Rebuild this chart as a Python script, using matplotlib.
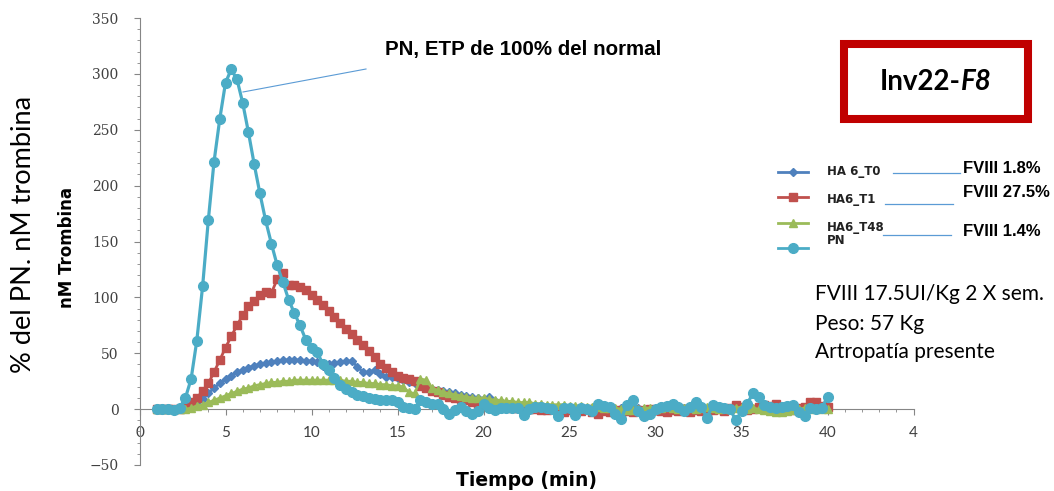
import matplotlib
matplotlib.use("Agg")
import matplotlib.pyplot as plt
from matplotlib.lines import Line2D
from matplotlib.patches import Rectangle
from matplotlib.ticker import MultipleLocator

# time (min), one reading every 20 s
tiempo = [
    1.0, 1.33, 1.67, 2.0, 2.33, 2.67, 3.0, 3.33, 3.67, 4.0, 4.33, 4.67,
    5.0, 5.33, 5.67, 6.0, 6.33, 6.67, 7.0, 7.33, 7.67, 8.0, 8.33, 8.67,
    9.0, 9.33, 9.67, 10.0, 10.33, 10.67, 11.0, 11.33, 11.67, 12.0, 12.33, 12.67,
    13.0, 13.33, 13.67, 14.0, 14.33, 14.67, 15.0, 15.33, 15.67, 16.0, 16.33, 16.67,
    17.0, 17.33, 17.67, 18.0, 18.33, 18.67, 19.0, 19.33, 19.67, 20.0, 20.33, 20.67,
    21.0, 21.33, 21.67, 22.0, 22.33, 22.67, 23.0, 23.33, 23.67, 24.0, 24.33, 24.67,
    25.0, 25.33, 25.67, 26.0, 26.33, 26.67, 27.0, 27.33, 27.67, 28.0, 28.33, 28.67,
    29.0, 29.33, 29.67, 30.0, 30.33, 30.67, 31.0, 31.33, 31.67, 32.0, 32.33, 32.67,
    33.0, 33.33, 33.67, 34.0, 34.33, 34.67, 35.0, 35.33, 35.67, 36.0, 36.33, 36.67,
    37.0, 37.33, 37.67, 38.0, 38.33, 38.67, 39.0, 39.33, 39.67, 40.0,
]

ha6_t0 = [
    0, 0, 0, 0, 0, 1, 2, 5, 9, 14, 19, 23,
    27, 30, 33, 35, 37, 39, 40, 41, 42, 43, 44, 44,
    44, 44, 43, 43, 42, 39, 40, 41, 42, 43, 43, 38,
    33, 33, 35, 31, 29, 29, 28, 26, 24, 23, 21, 19,
    18, 17, 16, 15, 14, 13, 12, 11, 10, 9, 11, 7,
    6, 5, 5, 4, 4, 3, 3, 2, 2, 2, 1, 1,
    1, 0, 1, 0, 1, 0, 1, 0, 0, 1, 0, 0,
    1, 0, 0, 1, 0, 0, 1, 0, 1, 0, 0, 1,
    0, 1, 0, -1, 0, 1, 0, 1, 0, 0, 1, 0,
    0, 1, 0, 0, 1, 0, 0, 1, 0, 0,
]

ha6_t1 = [
    0, 0, 0, 0, 0, 2, 6, 10, 16, 23, 33, 44,
    55, 65, 75, 84, 92, 97, 102, 105, 104, 116, 122, 111,
    111, 109, 107, 102, 98, 93, 88, 82, 77, 72, 67, 62,
    57, 52, 47, 40, 37, 33, 30, 28, 27, 25, 21, 19,
    16, 15, 13, 11, 10, 9, 8, 6, 5, 5, 4, 4,
    3, 2, 1, 1, 1, 0, 0, -1, -1, 0, -2, -3,
    -1, -3, -2, 0, -3, -4, -2, -3, -1, -4, -2, -3,
    -1, -2, 0, -1, -2, -3, -1, -2, 0, -3, -1, -2,
    -3, -1, 0, -2, 1, 4, 2, -1, 0, 2, 4, 3,
    5, 2, 0, -1, 1, 2, 6, 6, 3, 2,
]

ha6_t48 = [
    0, 0, 0, 0, 0, 0, 1, 3, 4, 6, 8, 10,
    12, 14, 16, 18, 19, 21, 22, 23, 24, 24, 25, 25,
    26, 26, 26, 26, 26, 26, 26, 26, 26, 25, 25, 24,
    24, 23, 23, 22, 22, 21, 21, 20, 15, 14, 27, 26,
    19, 17, 15, 14, 13, 12, 11, 10, 10, 10, 9, 8,
    8, 7, 7, 6, 6, 6, 5, 5, 4, 4, 4, 4,
    3, 3, 3, 2, 2, 2, 1, 1, 1, 0, -1, -1,
    0, 1, 1, 0, 1, 2, 1, 0, 1, 1, 0, 1,
    2, 1, 0, 1, 0, 1, 2, 0, 1, 0, -1, -2,
    -3, -3, -2, -1, 0, 1, 0, 1, 0, 0,
]

pn = [
    0, 0, 0, -1, 1, 10, 27, 61, 110, 169, 221, 260,
    292, 304, 295, 274, 248, 219, 193, 169, 148, 129, 114, 98,
    86, 75, 62, 55, 51, 40, 35, 28, 22, 18, 15, 13,
    12, 10, 9, 8, 8, 8, 6, 2, 1, 0, 8, 6,
    5, 5, 0, -4, -1, 2, -2, -4, -2, 5, 1, -1,
    1, 1, 1, 1, -5, 0, 2, 2, 1, 0, -6, 1,
    1, -5, 1, 0, -2, 5, 3, 2, -4, -9, 4, 8,
    -2, -6, -4, 0, 2, 3, 5, 2, -2, 2, 6, 2,
    -8, 4, 2, 1, 0, -10, -2, 5, 14, 11, 4, 2,
    1, 2, 3, 4, -3, -6, 1, 0, 1, 11,
]

series_labels = ["HA 6_T0", "HA6_T1", "HA6_T48", "PN"]
fviii_labels = ["FVIII 1.8%", "FVIII 27.5%", "FVIII 1.4%"]
x_tick_labels = ["0", "5", "10", "15", "20", "25", "30", "35", "40", "4"]
info_lines = ["FVIII 17.5UI/Kg 2 X sem.", "Peso: 57 Kg", "Artropatía presente"]

W, H = 1054, 491
def fx(px):
    return px / W
def fy(py):
    return 1 - py / H

c_blue = "#4F81BD"
c_red = "#C0504D"
c_green = "#9BBB59"
c_pn = "#4BACC6"
c_ann = "#5B9BD5"

fig = plt.figure(figsize=(W / 100, H / 100), dpi=100)
ax = fig.add_axes([fx(139.5), fy(465), (913.5 - 139.5) / W, (465 - 18) / H])

ax.plot(tiempo, ha6_t0, color=c_blue, lw=2.0, marker="D", ms=3.6, zorder=3)
ax.plot(tiempo, ha6_t1, color=c_red, lw=2.0, marker="s", ms=5.6, zorder=4)
ax.plot(tiempo, ha6_t48, color=c_green, lw=1.9, marker="^", ms=5.6, zorder=5)
ax.plot(tiempo, pn, color=c_pn, lw=2.3, marker="o", ms=7, zorder=6)

ax.set_xlim(0, 45)
ax.set_ylim(-50, 350)

for s in ["top", "right"]:
    ax.spines[s].set_visible(False)
ax.spines["bottom"].set_position(("data", 0))
ax.spines["left"].set_color("#868686")
ax.spines["bottom"].set_color("#868686")

ax.yaxis.set_major_locator(MultipleLocator(50))
ax.yaxis.set_minor_locator(MultipleLocator(10))
ax.set_xticks(range(0, 46, 5))
ax.set_xticklabels(x_tick_labels)
ax.xaxis.set_minor_locator(MultipleLocator(1))

ax.tick_params(axis="y", which="major", length=4, color="#868686", pad=11,
               labelsize=10, labelcolor="#404040")
ax.tick_params(axis="y", which="minor", length=2.5, color="#868686")
ax.tick_params(axis="x", which="major", length=4, color="#868686", pad=8,
               labelsize=11, labelcolor="#404040")
ax.tick_params(axis="x", which="minor", length=2.5, color="#868686")
for lab in ax.get_yticklabels():
    lab.set_family("DejaVu Serif")
for lab in ax.get_xticklabels():
    lab.set_family("Lato")

# axis titles
fig.text(fx(24), fy(234), "% del PN. nM trombina", rotation=90, ha="center",
         va="center", fontsize=19.5, family="Lato")
fig.text(fx(67), fy(247), "nM Trombina", rotation=90, ha="center", va="center",
         fontsize=12, fontweight="bold", family=["Liberation Sans Narrow", "DejaVu Sans"])
fig.text(fx(527), fy(481), "Tiempo (min)", ha="center", va="center",
         fontsize=13.5, fontweight="bold", family="DejaVu Sans")

# PN annotation
fig.add_artist(Line2D([fx(243), fx(366)], [fy(92), fy(69)], color=c_ann, lw=0.8))
fig.text(fx(385), fy(49), "PN, ETP de 100% del normal", ha="left", va="center",
         fontsize=14.8, fontweight="bold", family="Liberation Sans")

# boxed title
fig.add_artist(Rectangle((fx(844), fy(119)), (1027.5 - 844) / W, (119 - 44) / H,
                         fill=False, edgecolor="#C00000", lw=5.8))
fig.text(fx(961), fy(82.5), "Inv22-", ha="right", va="center", fontsize=20,
         fontweight="bold", family="Lato")
fig.text(fx(961), fy(82.5), "F8", ha="left", va="center", fontsize=20,
         fontweight="bold", fontstyle="italic", family="Lato")

# legend drawn by hand
leg = [(c_blue, "D", 3.6, 172), (c_red, "s", 5.6, 197), (c_green, "^", 5.6, 222.5),
       (c_pn, "o", 7, 248)]
for (col, mk, ms, yy) in leg:
    fig.add_artist(Line2D([fx(778), fx(793), fx(808)], [fy(yy)] * 3, color=col,
                          lw=2.0, marker=mk, ms=ms, markevery=[1]))
lab_y = [172, 199.5, 227, 240.5]
for lab, yy in zip(series_labels, lab_y):
    fig.text(fx(827), fy(yy), lab, ha="left", va="center", fontsize=8.5,
             fontweight="bold", family="DejaVu Sans", color="#222222")

# FVIII notes with connector lines
for (x0, x1, yy) in [(893, 960, 172.5), (885, 952.5, 203.5), (883, 950.5, 234.5)]:
    fig.add_artist(Line2D([fx(x0), fx(x1)], [fy(yy)] * 2, color=c_ann, lw=0.9))
for lab, yy in zip(fviii_labels, [168.5, 192.5, 232]):
    fig.text(fx(963), fy(yy), lab, ha="left", va="center", fontsize=12,
             fontweight="bold", family="Liberation Sans")

for line, yy in zip(info_lines, [294, 323.5, 352.5]):
    fig.text(fx(815), fy(yy), line, ha="left", va="center", fontsize=15,
             family="Lato")

fig.savefig("out.png", dpi=100)
